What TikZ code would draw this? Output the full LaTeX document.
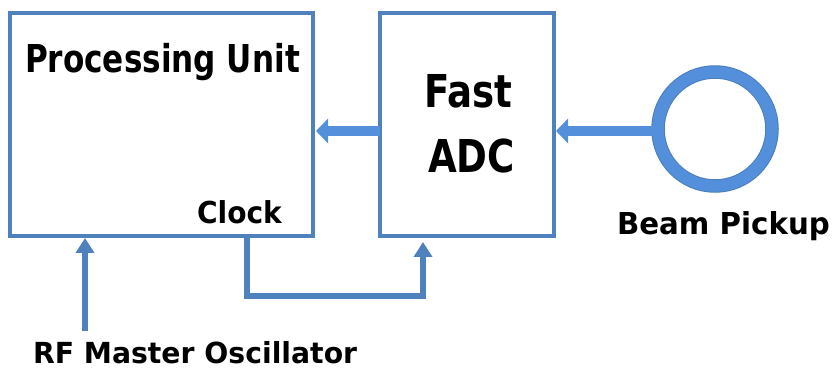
\documentclass[tikz,border=0pt]{standalone}
\usepackage{fontspec}
\setmainfont{DejaVu Sans}
\usetikzlibrary{arrows.meta,calc}
\definecolor{boxblue}{HTML}{4F81BD}
\definecolor{flowblue}{HTML}{538FDB}
\definecolor{ringedge}{HTML}{4A7EBB}
% bold label: size, horizontal squeeze, text
\newcommand{\lbl}[3]{\fontsize{#1}{#1}\selectfont\bfseries\scalebox{#2}[1]{#3}}
\begin{document}
\begin{tikzpicture}[x=1pt,y=-1pt,
  block/.style={draw=boxblue, line width=3.8pt, inner sep=0pt, outer sep=0pt},
  txt/.style={inner sep=0pt, outer sep=0pt, anchor=base west},
  wide/.style={flowblue, line width=10pt, -{Triangle[width=24pt,length=12pt]}},
  slim/.style={boxblue, line width=5.5pt, -{Triangle[width=18pt,length=15pt]}}]
\useasboundingbox (0,0) rectangle (832,371);

% blocks
\node[block, minimum width=303pt, minimum height=223pt] (pu) at (161.5,124.5) {};
\node[block, minimum width=174pt, minimum height=223pt] (adc) at (467,124.5) {};
\node[circle, draw=ringedge, double=flowblue, double distance=11.5pt, line width=1pt,
      minimum size=114pt, inner sep=0pt, outer sep=0pt] (pickup) at (715,129) {};

% texts
\node[txt] (putitle) at (25,73) {\lbl{38.4}{0.81}{Processing Unit}};
\node[txt, anchor=base] (fast) at (468.5,108) {\lbl{45.3}{0.82}{Fast}};
\node[txt, anchor=base] (adctext) at (471.5,173) {\lbl{45.3}{0.82}{ADC}};
\node[txt] (clock) at (197,224) {\lbl{30.2}{0.93}{Clock}};
\node[txt] (beam) at (617,235) {\lbl{30.2}{0.97}{Beam Pickup}};
\node[txt] (rf) at (33,363) {\lbl{29}{0.975}{RF Master Oscillator}};
\coordinate (rfout) at (85,331);

% signal flow
\draw[wide] ([yshift=-2pt]pickup.west) -- ([xshift=2pt,yshift=-6.5pt]adc.east);
\draw[wide] ([yshift=-6.5pt]adc.west) -- ([xshift=3pt,yshift=-6.5pt]pu.east);
\draw[slim] ([xshift=85.5pt]pu.south) -- ++(0,60) -| ([xshift=-44pt,yshift=-6pt]adc.south);
\draw[slim] (rfout) -- ($(rfout |- pu.south)+(0,2)$);
\end{tikzpicture}
\end{document}
